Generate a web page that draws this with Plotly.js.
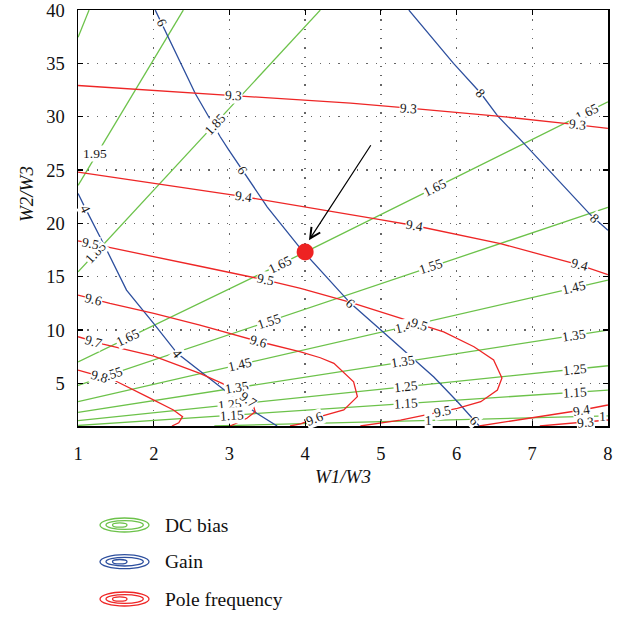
<!DOCTYPE html>
<html><head><meta charset="utf-8">
<script src="https://cdn.plot.ly/plotly-3.0.1.min.js"></script>
<style>html,body{margin:0;padding:0;background:#fff}#chart{width:629px;height:617px}</style>
</head><body><div id="chart"></div>
<script>
// ---------------- data ----------------
const xTicks = [1,2,3,4,5,6,7,8];
const yTicks = [5,10,15,20,25,30,35,40];

// DC bias contours (green)
const dcLevels = ['2.05','1.95','1.85','1.65','1.55','1.45','1.35','1.25','1.15','1'];
const dcX = [[1,1.145],[1,2.39],[1,4.2],[1,4,8],[1,8],[1,8],[1,8],[1,8],[1,8],[2.8,3.94,8]];
const dcY = [[37.45,40],[23.57,40],[15.45,40],[7.0,17.3,31.4],[4.8,21.5],[3.28,14.67],[2.28,9.99],[1.5,6.65],[1.05,4.37],[1.0,1.2,1.95]];
const dcLabIdx = [1,2,2,3,3,3,3,4,4,4,5,5,5,6,6,6,7,7,7,8,8,8,9,9];
const dcLabX = [1.225,1.27,2.79,1.644,3.67,5.70,7.71,1.42,3.52,5.66,3.14,5.35,7.55,3.10,5.30,7.55,3.01,5.33,7.57,3.03,5.33,7.57,5.63,7.93];
const dcLabY = [26.6,17.0,29.4,9.5,16.2,23.6,30.6,6.1,10.9,15.9,6.8,10.3,14.0,4.6,6.97,9.52,3.0,4.63,6.4,1.94,3.06,4.31,1.45,1.98];

// Gain contours (blue)
const gainLevels = ['4','6','8'];
const gainX = [[1,1.09,1.38,1.64,2.0,2.31,3.0,3.36,3.63],
               [2.02,2.55,2.88,2.99,3.50,3.94,4.44,4.60,5.0,5.70,6.01,6.30],
               [5.37,5.96,6.32,6.54,6.89,7.29,7.77,8]];
const gainY = [[22.8,21.5,17.48,13.74,10.6,7.81,4.0,2.19,1.0],
               [40,32.15,28.1,26.9,21.53,17.64,13.74,12.5,10.0,5.6,3.3,1.0],
               [40,35.0,32.2,30.1,27.5,24.5,20.8,19.35]];
const gainLabIdx = [0,0,1,1,1,1,2,2];
const gainLabX = [1.09,2.305,2.09,3.14,4.60,6.27,6.32,7.82];
const gainLabY = [21.3,7.81,38.77,24.8,12.49,1.72,32.2,20.4];

// Pole frequency contours (red)
const poleLevels = ['9.3','9.4','9.5','9.6','9.7','9.8','9.4','9.3'];
const poleX = [[1,2.88,4.6,5.37,6.54,7.46,8],
               [1,2.61,3.19,4.99,5.44,6.58,7.62,8],
               [1,2.26,2.61,3.47,3.94,4.6,5.39,5.83,6.23,6.49,6.6,6.54,6.32,6.01,5.26,4.73],
               [1,1.42,2.0,2.61,3.4,3.94,4.2,4.38,4.64,4.69,4.51,4.16,3.94,3.8],
               [1,1.33,2.0,2.61,3.05,3.25,3.32,3.34,3.23,3.01],
               [1,1.47,1.91,2.26,2.38,2.33,2.24],
               [6.3,7.02,7.66,8],
               [7.1,7.6,8]];
const poleY = [[32.93,32.06,31.27,30.8,30.06,29.35,28.9],
               [24.8,23.1,22.5,20.35,19.8,18.1,16.1,15.2],
               [18.35,16.55,15.98,14.7,13.9,12.6,10.8,9.83,8.43,7.2,5.5,4.37,3.28,2.66,1.56,1.0],
               [13.27,12.5,11.55,10.46,8.9,7.95,7.4,6.87,5.15,3.75,2.5,1.8,1.2,1.0],
               [9.37,8.68,7.56,5.94,4.53,3.5,2.8,2.34,1.72,1.0],
               [6.25,5.31,3.75,2.5,1.87,1.3,1.0],
               [1.0,1.8,2.5,2.97],
               [1.0,1.3,1.56]];
const poleLabIdx = [0,0,0,1,1,1,2,2,2,2,3,3,3,4,4,5,6,7];
const poleLabX = [3.05,5.37,7.6,3.19,5.44,7.62,1.18,3.47,5.5,5.81,1.22,3.38,4.13,1.2,3.25,1.27,7.64,7.7];
const poleLabY = [31.9,30.8,29.1,22.5,19.8,16.1,18.5,14.7,10.4,2.35,13.2,8.8,1.7,8.96,3.5,5.4,2.7,1.35];

// Design point and arrow
const pointX = [4.0], pointY = [17.32];
const arrowFrom = [4.88, 27.47], arrowTo = [4.05, 18.42];

const legendNames = ['DC bias','Gain','Pole frequency'];

// ---------------- styling / layout ----------------
const GREEN = '#6cc24a', BLUE = '#2d4f9e', RED = '#ee2626';
const SERIF = 'Liberation Serif';
const W = 629, H = 617, ML = 78, MR = 21, MT = 10, MB = 191;
const PW = W - ML - MR, PH = H - MT - MB;
const xr = [0.999, 8.001], yr = [0.999, 40.01];
const sx = PW / (xr[1] - xr[0]), sy = PH / (yr[1] - yr[0]);
const pxX = p => (p - ML) / PW;            // pixel -> paper
const pxY = p => (MT + PH - p) / PH;

const traces = [];
const annotations = [];

function addLines(X, Y, color) {
  X.forEach((xs, i) => traces.push({
    x: xs, y: Y[i], type: 'scatter', mode: 'lines',
    line: {color: color, width: 1.3}, hoverinfo: 'skip', showlegend: false
  }));
}
addLines(dcX, dcY, GREEN);
addLines(gainX, gainY, BLUE);
addLines(poleX, poleY, RED);

function snap(xs, ys, lx, ly) {
  let best = null;
  const P = [(lx - xr[0]) * sx, -(ly - yr[0]) * sy];
  for (let i = 0; i < xs.length - 1; i++) {
    const A = [(xs[i] - xr[0]) * sx, -(ys[i] - yr[0]) * sy];
    const B = [(xs[i+1] - xr[0]) * sx, -(ys[i+1] - yr[0]) * sy];
    const dx = B[0] - A[0], dy = B[1] - A[1];
    const L2 = dx*dx + dy*dy;
    let t = L2 ? ((P[0]-A[0])*dx + (P[1]-A[1])*dy) / L2 : 0;
    t = Math.max(0, Math.min(1, t));
    const Q = [A[0] + t*dx, A[1] + t*dy];
    const d = Math.hypot(P[0]-Q[0], P[1]-Q[1]);
    if (!best || d < best.d) {
      let a = Math.atan2(dy, dx) * 180 / Math.PI;
      if (a > 90) a -= 180;
      if (a <= -90) a += 180;
      best = {d: d, x: Q[0] / sx + xr[0], y: -Q[1] / sy + yr[0], a: a};
    }
  }
  return best;
}

function addLabels(levels, X, Y, idx, lx, ly, freeFirst) {
  idx.forEach((k, j) => {
    let s = snap(X[k], Y[k], lx[j], ly[j]);
    let x = s.x, y = s.y, a = s.a;
    if (freeFirst && j === 0) { x = lx[j]; y = ly[j]; a = 0; }
    annotations.push({
      x: x, y: y, xref: 'x', yref: 'y', text: levels[k], showarrow: false,
      textangle: a, font: {family: SERIF, size: 13.5, color: '#1a1a1a'},
      bgcolor: 'white', borderpad: 0, xanchor: 'center', yanchor: 'middle'
    });
  });
}
addLabels(dcLevels, dcX, dcY, dcLabIdx, dcLabX, dcLabY, true);
addLabels(gainLevels, gainX, gainY, gainLabIdx, gainLabX, gainLabY, false);
addLabels(poleLevels, poleX, poleY, poleLabIdx, poleLabX, poleLabY, false);

// design point
traces.push({x: pointX, y: pointY, type: 'scatter', mode: 'markers',
  marker: {size: 17, color: '#ee2222'}, hoverinfo: 'skip', showlegend: false, cliponaxis: false});

// arrow
annotations.push({x: arrowTo[0], y: arrowTo[1], ax: arrowFrom[0], ay: arrowFrom[1],
  xref: 'x', yref: 'y', axref: 'x', ayref: 'y', text: '', showarrow: true,
  arrowhead: 5, arrowsize: 1.7, arrowwidth: 1.2, arrowcolor: '#000', standoff: 0});

// axis titles
annotations.push({xref: 'paper', yref: 'paper', x: 0.5, y: pxY(476), text: '<i>W1/W3</i>',
  showarrow: false, xanchor: 'center', yanchor: 'middle', font: {family: SERIF, size: 19, color: '#111'}});
annotations.push({xref: 'paper', yref: 'paper', x: pxX(26), y: pxY(194), text: '<i>W2/W3</i>',
  showarrow: false, textangle: -90, xanchor: 'center', yanchor: 'middle', font: {family: SERIF, size: 19, color: '#111'}});

// legend (concentric ellipses + text)
const shapes = [];
const legColors = [GREEN, BLUE, RED];
const legCy = [525, 561.7, 599];
legendNames.forEach((name, i) => {
  const cy = legCy[i];
  [[100,149,7],[106,143.3,4.3],[112.5,127,2.2]].forEach(e => {
    shapes.push({type: 'circle', xref: 'paper', yref: 'paper',
      x0: pxX(e[0]), x1: pxX(e[1]), y0: pxY(cy + e[2]), y1: pxY(cy - e[2]),
      line: {color: legColors[i], width: 1.3}});
  });
  annotations.push({xref: 'paper', yref: 'paper', x: pxX(163), y: pxY(cy), text: name,
    showarrow: false, xanchor: 'left', yanchor: 'middle', font: {family: SERIF, size: 19.5, color: '#111'}});
});

const axisCommon = {
  showline: true, linecolor: '#000', linewidth: 1.5, mirror: 'ticks',
  ticks: 'inside', ticklen: 5, tickwidth: 1.2, tickcolor: '#000',
  showgrid: true, gridcolor: '#666', gridwidth: 1.3, griddash: '1.3px,8px',
  zeroline: false, ticklabeloverflow: 'allow',
  tickfont: {family: SERIF, size: 18.5, color: '#111'}
};

const layout = {
  width: W, height: H, margin: {l: ML, r: MR, t: MT, b: MB, pad: 0},
  paper_bgcolor: 'white', plot_bgcolor: 'white', showlegend: false,
  font: {family: SERIF},
  xaxis: Object.assign({}, axisCommon, {range: xr, tickvals: xTicks, ticktext: xTicks.map(String), ticklabelstandoff: 10}),
  yaxis: Object.assign({}, axisCommon, {range: yr, tickvals: yTicks, ticktext: yTicks.map(String), ticklabelstandoff: 8}),
  annotations: annotations, shapes: shapes
};

Plotly.newPlot('chart', traces, layout, {staticPlot: true, displayModeBar: false});
</script></body></html>
